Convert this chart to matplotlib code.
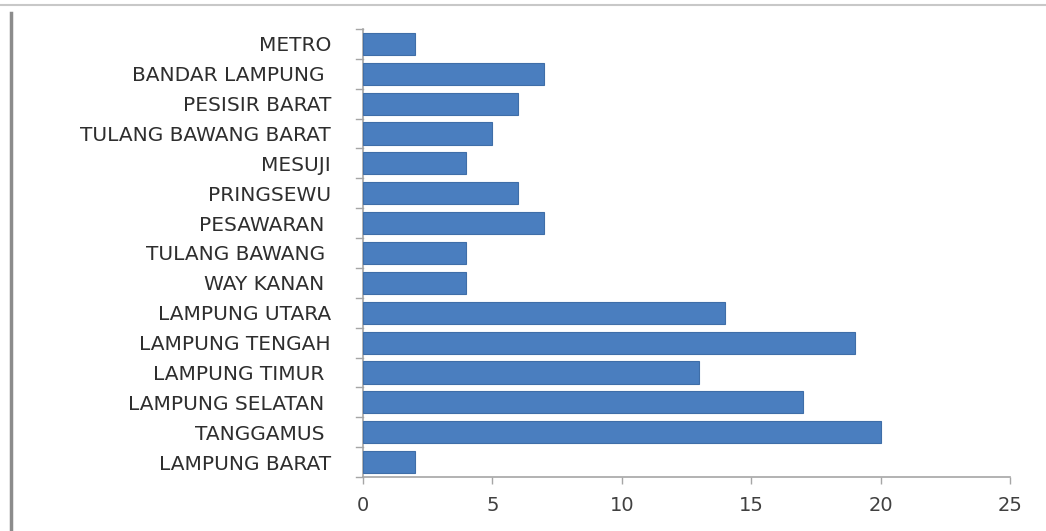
import matplotlib
matplotlib.use("Agg")
import matplotlib.pyplot as plt
from matplotlib.lines import Line2D

regions = ["METRO", "BANDAR LAMPUNG ", "PESISIR BARAT", "TULANG BAWANG BARAT",
           "MESUJI", "PRINGSEWU", "PESAWARAN ", "TULANG BAWANG ", "WAY KANAN ",
           "LAMPUNG UTARA", "LAMPUNG TENGAH", "LAMPUNG TIMUR ", "LAMPUNG SELATAN ",
           "TANGGAMUS ", "LAMPUNG BARAT"]
counts = [2, 7, 6, 5, 4, 6, 7, 4, 4, 14, 19, 13, 17, 20, 2]
x_ticks = [0, 5, 10, 15, 20, 25]

plt.rcParams['font.family'] = ['DejaVu Sans']

fig = plt.figure(figsize=(10.46, 5.31), dpi=100)
ax = fig.add_axes([0.347, 0.1017, 0.6186, 0.8437])

n = len(regions)
pos = list(range(n))[::-1]
ax.barh(pos, counts, height=0.74, color="#4a7ebf", edgecolor="#3f6ea8", linewidth=0.8, zorder=3)

ax.set_xlim(0, 25)
ax.set_ylim(-0.5, n - 0.5)
ax.set_xticks(x_ticks)
ax.set_xticklabels([str(t) for t in x_ticks], fontsize=14, color="#404040")

ax.set_yticks(pos)
ax.set_yticklabels(regions, fontsize=14.5, color="#2e2e2e")
ax.tick_params(axis="y", length=0, pad=23)
ax.tick_params(axis="x", length=5, width=1, color="#a6a6a6", pad=9, direction="out")

# category boundary ticks on the value axis
for b in [i - 0.5 for i in range(n + 1)]:
    ax.add_line(Line2D([-0.25, 0], [b, b], color="#a6a6a6", lw=1, clip_on=False))

for s in ["top", "right"]:
    ax.spines[s].set_visible(False)
for s in ["left", "bottom"]:
    ax.spines[s].set_color("#a6a6a6")
    ax.spines[s].set_linewidth(1.2)

# outer frame lines
fig.add_artist(Line2D([0, 1], [0.991, 0.991], color="#c8c8c8", lw=1.5, transform=fig.transFigure))
fig.add_artist(Line2D([0.0105, 0.0105], [0, 0.975], color="#8c8c8c", lw=2.5, transform=fig.transFigure))

fig.savefig("out.png", dpi=100)
